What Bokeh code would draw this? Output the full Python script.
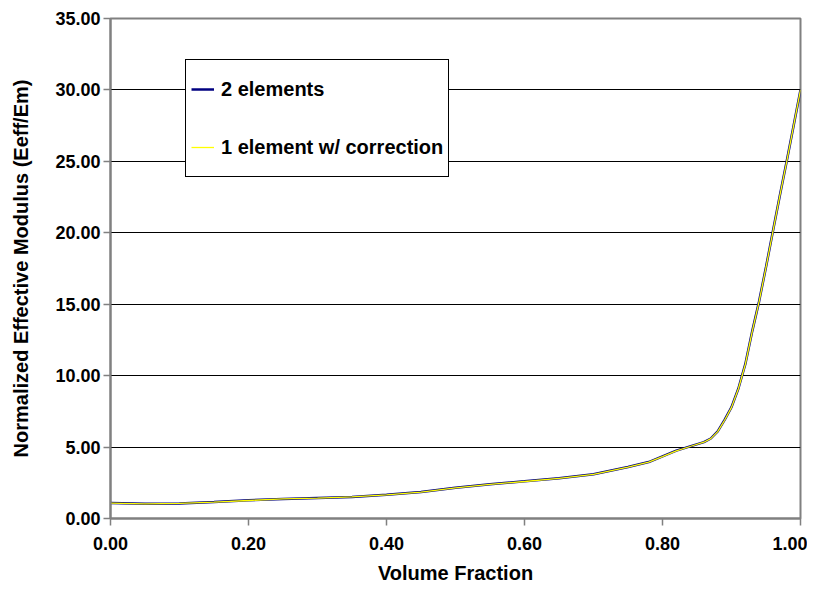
from bokeh.plotting import figure
from bokeh.models import FixedTicker, NumeralTickFormatter, Legend, LegendItem, Range1d
from bokeh.embed import file_html
from bokeh.resources import INLINE

# Volume fraction (x) and normalized effective modulus (y)
volume_fraction = [0.00, 0.05, 0.10, 0.15, 0.20, 0.25, 0.30, 0.35, 0.40, 0.45,
                   0.50, 0.55, 0.60, 0.65, 0.70, 0.75, 0.78, 0.80, 0.82, 0.84,
                   0.86, 0.87, 0.88, 0.89, 0.90, 0.91, 0.92, 0.93, 0.94, 0.95,
                   0.96, 0.97, 0.98, 0.99, 1.00]
two_elements = [1.09, 1.04, 1.05, 1.15, 1.28, 1.36, 1.43, 1.50, 1.66, 1.85,
                2.15, 2.40, 2.60, 2.82, 3.10, 3.60, 3.95, 4.35, 4.75, 5.05,
                5.35, 5.60, 6.10, 6.90, 7.80, 9.10, 10.80, 13.10, 15.20, 17.60,
                20.10, 22.60, 25.00, 27.50, 30.00]
one_element_corr = [1.07, 1.03, 1.06, 1.14, 1.26, 1.37, 1.42, 1.51, 1.65, 1.84,
                    2.14, 2.39, 2.59, 2.81, 3.09, 3.59, 3.94, 4.33, 4.74, 5.04,
                    5.34, 5.59, 6.08, 6.88, 7.78, 9.08, 10.78, 13.08, 15.18, 17.58,
                    20.08, 22.58, 24.98, 27.48, 30.00]
x_ticks = [0.0, 0.2, 0.4, 0.6, 0.8, 1.0]
y_ticks = [0, 5, 10, 15, 20, 25, 30, 35]
series_names = ["2 elements", "1 element w/ correction"]

FONT = "Liberation Sans"
GRAY = "#808080"

p = figure(width=807, height=586, output_backend="svg", toolbar_location=None,
           x_range=Range1d(0, 1), y_range=Range1d(0, 35))
p.min_border_left = 110
p.min_border_right = 7
p.min_border_top = 18
p.min_border_bottom = 68
p.background_fill_color = "white"
p.border_fill_color = "white"
p.outline_line_color = GRAY
p.outline_line_width = 2

r1 = p.line(volume_fraction, two_elements, line_color="#000080", line_width=2.5)
r2 = p.line(volume_fraction, one_element_corr, line_color="#FFFF00", line_width=1.3)

p.xgrid.visible = False
p.ygrid.ticker = FixedTicker(ticks=[5, 10, 15, 20, 25, 30])
p.ygrid.grid_line_color = "black"
p.ygrid.grid_line_width = 1

for ax in (p.xaxis[0], p.yaxis[0]):
    ax.axis_line_color = GRAY
    ax.axis_line_width = 2
    ax.major_tick_line_color = GRAY
    ax.major_tick_line_width = 1.5
    ax.major_tick_out = 7
    ax.major_tick_in = 0
    ax.minor_tick_line_color = None
    ax.major_label_text_font = FONT
    ax.major_label_text_font_style = "bold"
    ax.major_label_text_font_size = "18px"
    ax.major_label_text_color = "black"
    ax.axis_label_text_font = FONT
    ax.axis_label_text_font_style = "bold"
    ax.axis_label_text_font_size = "20px"
    ax.axis_label_text_color = "black"
    ax.formatter = NumeralTickFormatter(format="0.00")

p.xaxis[0].ticker = FixedTicker(ticks=x_ticks)
p.yaxis[0].ticker = FixedTicker(ticks=y_ticks)
p.xaxis[0].axis_label = "Volume Fraction"
p.yaxis[0].axis_label = "Normalized Effective Modulus (Eeff/Em)"
p.xaxis[0].major_label_standoff = 11
p.xaxis[0].axis_label_standoff = 9
p.yaxis[0].major_label_standoff = 3
p.yaxis[0].axis_label_standoff = 20

legend = Legend(items=[LegendItem(label=series_names[0], renderers=[r1]),
                       LegendItem(label=series_names[1], renderers=[r2])],
                location=(75, 341))
legend.padding = 5
legend.spacing = 10
legend.margin = 0
legend.glyph_height = 48
legend.label_height = 48
legend.glyph_width = 23
legend.label_standoff = 7
legend.label_text_font = FONT
legend.label_text_font_style = "bold"
legend.label_text_font_size = "20px"
legend.label_text_color = "black"
legend.border_line_color = "black"
legend.border_line_alpha = 1
legend.border_line_width = 1
legend.background_fill_color = "white"
legend.background_fill_alpha = 1
p.add_layout(legend, "center")

open("out.html", "w").write(file_html(p, INLINE))
